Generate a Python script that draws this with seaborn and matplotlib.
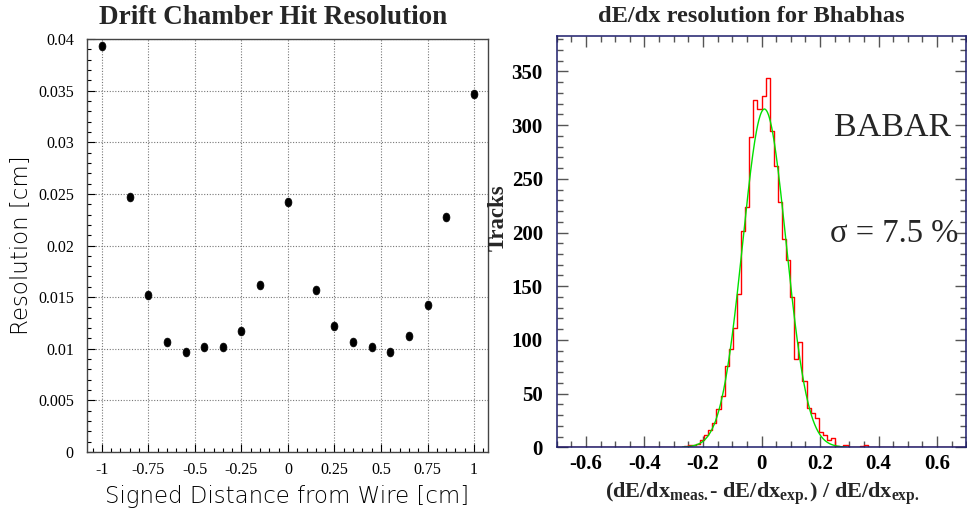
import numpy as np
import pandas as pd
import matplotlib
matplotlib.use("Agg")
import matplotlib.pyplot as plt
import seaborn as sns
from matplotlib.ticker import MultipleLocator
from matplotlib.markers import MarkerStyle
from matplotlib.transforms import Affine2D

# ---------------- data: left panel ----------------
distance = [-1.0, -0.85, -0.75, -0.65, -0.55, -0.45, -0.35, -0.25, -0.15, 0.0,
            0.15, 0.25, 0.35, 0.45, 0.55, 0.65, 0.75, 0.85, 1.0]
resolution = [0.0393, 0.0247, 0.0152, 0.0107, 0.0097, 0.0102, 0.0102, 0.0117, 0.0162, 0.0242,
              0.0157, 0.0122, 0.0107, 0.0102, 0.0097, 0.0112, 0.0142, 0.0228, 0.0347]
left_xticks = [-1, -0.75, -0.5, -0.25, 0, 0.25, 0.5, 0.75, 1]
left_xticklabels = ["-1", "-0.75", "-0.5", "-0.25", "0", "0.25", "0.5", "0.75", "1"]
left_yticks = [0, 0.005, 0.01, 0.015, 0.02, 0.025, 0.03, 0.035, 0.04]
left_yticklabels = ["0", "0.005", "0.01", "0.015", "0.02", "0.025", "0.03", "0.035", "0.04"]

# ---------------- data: right panel (histogram) ----------------
hist_range = (-0.7, 0.7)
n_bins = 100
first_filled_bin = 31          # bins before this one are empty
counts_filled = [1, 2, 2, 3, 7, 11, 16, 23, 36, 48,
                 76, 92, 111, 143, 201, 224, 289, 323, 315, 327,
                 344, 295, 262, 228, 194, 174, 140, 82, 98, 62,
                 37, 32, 27, 14, 11, 7, 9, 1, 0, 2,
                 0, 0, 0, 1, 2]
right_xticks = [-0.6, -0.4, -0.2, 0, 0.2, 0.4, 0.6]
right_xticklabels = ["-0.6", "-0.4", "-0.2", "0", "0.2", "0.4", "0.6"]
right_yticks = [0, 50, 100, 150, 200, 250, 300, 350]
# Gaussian fit parameters
fit_amp, fit_mean, fit_sigma = 315.0, 0.010, 0.074
fit_range = (-0.27, 0.29)

# ---------------- style ----------------
sns.set_style("white")
plt.rcParams["font.family"] = ["Liberation Serif", "DejaVu Serif"]
plt.rcParams["mathtext.fontset"] = "custom"
plt.rcParams["mathtext.rm"] = "Liberation Serif"
plt.rcParams["mathtext.bf"] = "Liberation Serif:bold"
plt.rcParams["mathtext.it"] = "Liberation Serif:italic"

W, H = 967, 512
fig = plt.figure(figsize=(W / 100, H / 100), dpi=100)

def frac(x0, y0, x1, y1):
    return [x0 / W, 1 - y1 / H, (x1 - x0) / W, (y1 - y0) / H]

# ---------------- left panel ----------------
ax1 = fig.add_axes(frac(87, 39, 488, 452))
df_left = pd.DataFrame({"distance": distance, "resolution": resolution})
ell = MarkerStyle("o", transform=Affine2D().scale(0.78, 1.0))
sns.scatterplot(data=df_left, x="distance", y="resolution", ax=ax1,
                marker=ell, s=40, color="black", edgecolor="black", linewidth=0.5, zorder=5)
ax1.set_xlim(-1.08, 1.075)
ax1.set_ylim(0, 0.04)
ax1.set_xticks(left_xticks)
ax1.set_xticklabels(left_xticklabels)
ax1.set_yticks(left_yticks)
ax1.set_yticklabels(left_yticklabels)
ax1.xaxis.set_minor_locator(MultipleLocator(0.05))
ax1.yaxis.set_minor_locator(MultipleLocator(0.001))
ax1.tick_params(axis="both", which="both", direction="in", colors="black",
                bottom=True, left=True, top=False, right=False,
                labelsize=11.5, width=0.8)
ax1.tick_params(axis="x", which="major", length=6, pad=7)
ax1.tick_params(axis="x", which="minor", length=3)
ax1.tick_params(axis="y", which="major", length=6, pad=9.5)
ax1.tick_params(axis="y", which="minor", length=3)
ax1.grid(True, which="major", color="#777777", linestyle=(0, (1, 1.5)), linewidth=0.8)
for sp in ax1.spines.values():
    sp.set_color("#444444")
    sp.set_linewidth(1.0)
    sp.set_visible(True)
ax1.set_xlabel("Signed Distance from Wire [cm]", family=["DejaVu Sans"], fontweight="light",
               fontsize=16.5, va="center", color="black")
ax1.xaxis.set_label_coords(0.5, -0.107)
ax1.set_ylabel("Resolution [cm]", family=["DejaVu Sans"], fontweight="light",
               fontsize=16.5, va="center", color="black")
ax1.yaxis.set_label_coords(-0.165, 0.5)
fig.text(273 / W, 1 - 18 / H, "Drift Chamber Hit Resolution", ha="center", va="center",
         fontsize=19.5, fontweight="bold")

# ---------------- right panel ----------------
ax2 = fig.add_axes(frac(556.7, 36, 966.3, 447.3))
edges = np.linspace(hist_range[0], hist_range[1], n_bins + 1)
centers = 0.5 * (edges[:-1] + edges[1:])
counts = np.zeros(n_bins)
counts[first_filled_bin:first_filled_bin + len(counts_filled)] = counts_filled
df_hist = pd.DataFrame({"x": centers, "w": counts})
sns.histplot(data=df_hist, x="x", weights="w", bins=n_bins, binrange=hist_range,
             element="step", fill=False, color="red", linewidth=1.0, ax=ax2)
xf = np.linspace(fit_range[0], fit_range[1], 400)
yf = fit_amp * np.exp(-0.5 * ((xf - fit_mean) / fit_sigma) ** 2)
sns.lineplot(x=xf, y=yf, color="#00e000", linewidth=1.0, ax=ax2, sort=False)
ax2.set_xlim(hist_range)
ax2.set_ylim(0, 383)
ax2.set_xticks(right_xticks)
ax2.set_xticklabels(right_xticklabels)
ax2.set_yticks(right_yticks)
ax2.xaxis.set_minor_locator(MultipleLocator(0.05))
ax2.yaxis.set_minor_locator(MultipleLocator(10))
ax2.tick_params(axis="both", which="both", direction="in",
                top=True, right=True, bottom=True, left=True,
                colors="#555555", labelcolor="black", width=1.0)
ax2.tick_params(axis="both", which="major", length=8)
ax2.tick_params(axis="both", which="minor", length=4)
ax2.tick_params(axis="x", which="major", pad=5)
ax2.tick_params(axis="y", which="major", pad=10)
for lab in ax2.get_xticklabels() + ax2.get_yticklabels():
    lab.set_fontweight("bold")
    lab.set_fontsize(15)
for sp in ax2.spines.values():
    sp.set_color("#1c1c6b")
    sp.set_linewidth(1.1)
    sp.set_visible(True)
ax2.set_xlabel("$\\mathbf{(dE/dx_{meas.}\u2010\\ dE/dx_{exp.})\\ /\\ dE/dx_{exp.}}$",
               fontsize=16, va="center")
ax2.xaxis.set_label_coords(0.503, -0.112)
ax2.set_ylabel("Tracks", fontsize=16.4, fontweight="bold", va="center")
ax2.yaxis.set_label_coords(-0.143, 0.5575)
ax2.text(0.82, 0.776, "BABAR", transform=ax2.transAxes, ha="center", va="center",
         fontsize=24.5)
ax2.text(0.823, 0.52, "\u03c3 = 7.5 %", transform=ax2.transAxes, ha="center", va="center",
         fontsize=23.5)
fig.text(751 / W, 1 - 17 / H, "dE/dx resolution for Bhabhas", ha="center", va="center",
         fontsize=17.6, fontweight="bold")

fig.savefig("out.png", dpi=100)
